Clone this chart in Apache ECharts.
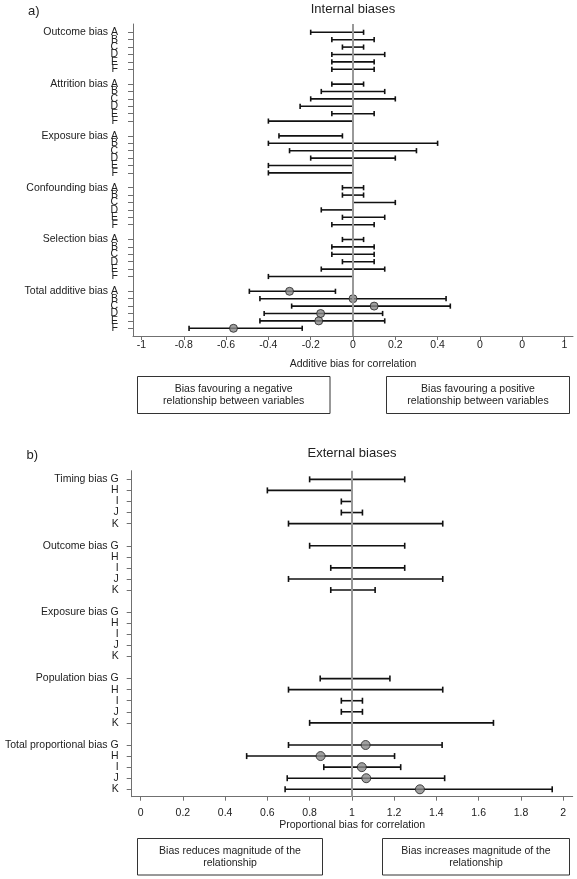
<!DOCTYPE html>
<html><head><meta charset="utf-8">
<script src="https://cdn.jsdelivr.net/npm/echarts@6/dist/echarts.min.js"></script>
<style>html,body{margin:0;padding:0;background:#fff}#c{width:577px;height:879px}</style>
</head><body><div id="c"></div>
<script>
// ---------- Data: internal biases (additive) ----------
const internalGroups = ['Outcome bias','Attrition bias','Exposure bias','Confounding bias','Selection bias','Total additive bias'];
const internalLetters = ['A','B','C','D','E','F'];
const intOutcome     = [[-0.2,0.05],[-0.1,0.1],[-0.05,0.05],[-0.1,0.15],[-0.1,0.1],[-0.1,0.1]];
const intAttrition   = [[-0.1,0.05],[-0.15,0.15],[-0.2,0.2],[-0.25,0],[-0.1,0.1],[-0.4,0]];
const intExposure    = [[-0.35,-0.05],[-0.4,0.4],[-0.3,0.3],[-0.2,0.2],[-0.4,0],[-0.4,0]];
const intConfounding = [[-0.05,0.05],[-0.05,0.05],[0,0.2],[-0.15,0],[-0.05,0.15],[-0.1,0.1]];
const intSelection   = [[-0.05,0.05],[-0.1,0.1],[-0.1,0.1],[-0.05,0.1],[-0.15,0.15],[-0.4,0]];
const intTotal       = [[-0.49,-0.083],[-0.44,0.44],[-0.29,0.46],[-0.42,0.14],[-0.44,0.15],[-0.775,-0.24]];
const intTotalPoint  = [-0.30, 0, 0.10, -0.153, -0.162, -0.565];
const intTickValues  = [-1,-0.8,-0.6,-0.4,-0.2,0,0.2,0.4,0.6,0.8,1];
const intTickLabels  = ['-1','-0.8','-0.6','-0.4','-0.2','0','0.2','0.4','0','0','1'];

// ---------- Data: external biases (proportional) ----------
const externalGroups = ['Timing bias','Outcome bias','Exposure bias','Population bias','Total proportional bias'];
const externalLetters = ['G','H','I','J','K'];
const extTiming     = [[0.8,1.25],[0.6,1.0],[0.95,1.0],[0.95,1.05],[0.7,1.43]];
const extOutcome    = [[0.8,1.25],[1.0,1.0],[0.9,1.25],[0.7,1.43],[0.9,1.11]];
const extExposure   = [];
const extPopulation = [[0.85,1.18],[0.7,1.43],[0.95,1.05],[0.95,1.05],[0.8,1.67]];
const extTotal      = [[0.70,1.427],[0.502,1.202],[0.867,1.231],[0.694,1.439],[0.684,1.948]];
const extTotalPoint = [1.065, 0.852, 1.047, 1.068, 1.322];
const extTickValues = [0,0.2,0.4,0.6,0.8,1,1.2,1.4,1.6,1.8,2];
const extTickLabels = ['0','0.2','0.4','0.6','0.8','1','1.2','1.4','1.6','1.8','2'];

// ---------- Build ----------
const FONT = "'Liberation Sans', Arial, sans-serif";
function build(groups, letters, sets, totalPts) {
  const rows = [], evenRows = [], oddRows = [], labels = {}, bars = [], pts = [];
  const step = letters.length + 1;
  groups.forEach((g, gi) => {
    letters.forEach((l, li) => {
      const r = gi * step + li;
      rows.push(r);
      (li % 2 === 0 ? evenRows : oddRows).push(r);
      labels[r] = li === 0 ? g + ' ' + l : l;
      const s = sets[gi][li];
      if (s) bars.push([s[0], s[1], r]);
      if (gi === groups.length - 1 && totalPts[li] != null) pts.push([totalPts[li], r]);
    });
  });
  return {rows, evenRows, oddRows, labels, bars, pts};
}
const topD = build(internalGroups, internalLetters,
  [intOutcome, intAttrition, intExposure, intConfounding, intSelection, intTotal], intTotalPoint);
const botD = build(externalGroups, externalLetters,
  [extTiming, extOutcome, extExposure, extPopulation, extTotal], extTotalPoint);

function renderBar(capH) {
  return function (params, api) {
    const y = api.value(2);
    const p1 = api.coord([api.value(0), y]);
    const p2 = api.coord([api.value(1), y]);
    const st = {stroke: '#111', lineWidth: 1.6};
    return {type: 'group', children: [
      {type: 'line', shape: {x1: p1[0], y1: p1[1], x2: p2[0], y2: p2[1]}, style: st},
      {type: 'line', shape: {x1: p1[0], y1: p1[1] - capH, x2: p1[0], y2: p1[1] + capH}, style: st},
      {type: 'line', shape: {x1: p2[0], y1: p2[1] - capH, x2: p2[0], y2: p2[1] + capH}, style: st}
    ]};
  };
}

const axisCol = '#707070', textCol = '#222';
function xAxisCfg(gi, min, max, vals, labs, name, labelMargin) {
  return {
    type: 'value', gridIndex: gi, min, max, position: 'bottom',
    name, nameLocation: 'middle', nameGap: 23,
    nameTextStyle: {fontFamily: FONT, fontSize: 10.5, color: textCol},
    axisLine: {show: true, onZero: false, lineStyle: {color: axisCol, width: 1}},
    axisTick: {show: true, length: 4, customValues: vals, lineStyle: {color: axisCol}},
    axisLabel: {customValues: vals, margin: labelMargin, hideOverlap: false, showMinLabel: true, showMaxLabel: true,
      fontFamily: FONT, fontSize: 10.5, color: textCol,
      formatter: v => { const i = vals.findIndex(t => Math.abs(t - v) < 1e-6); return i >= 0 ? labs[i] : ''; }},
    splitLine: {show: false}
  };
}
// y axis: tickRows get ticks, labelRows get labels
function yAxisCfg(gi, min, max, d, tickRows, labelRows, margin, showLine) {
  return {
    type: 'value', gridIndex: gi, inverse: true, min, max, position: 'left', offset: 0,
    axisLine: {show: showLine, onZero: false, lineStyle: {color: axisCol, width: 1}},
    axisTick: {show: showLine, length: 5, customValues: tickRows, lineStyle: {color: axisCol}},
    axisLabel: {customValues: labelRows, margin, hideOverlap: false, showMinLabel: true, showMaxLabel: true,
      fontFamily: FONT, fontSize: 10.5, color: textCol,
      formatter: v => d.labels[Math.round(v)] || ''},
    splitLine: {show: false}
  };
}

const chart = echarts.init(document.getElementById('c'), null, {renderer: 'canvas'});
const refLine = (val) => ({
  silent: true, symbol: 'none', animation: false,
  label: {show: false},
  lineStyle: {color: '#999', width: 2, type: 'solid'},
  data: [{xAxis: val}]
});

chart.setOption({
  animation: false,
  backgroundColor: '#fff',
  grid: [
    {left: 133, right: 4, top: 24, height: 312},
    {left: 131.7, right: 4.3, top: 470.7, height: 326}
  ],
  xAxis: [
    xAxisCfg(0, -1.04, 1.04, intTickValues, intTickLabels, 'Additive bias for correlation', 4),
    xAxisCfg(1, -0.042, 2.045, extTickValues, extTickLabels, 'Proportional bias for correlation', 11)
  ],
  yAxis: [
    yAxisCfg(0, -1.12, 41.04, topD, topD.rows, topD.evenRows, 15, true),
    yAxisCfg(0, -1.12, 41.04, topD, [], topD.oddRows, 15, false),
    yAxisCfg(1, -0.78, 28.67, botD, botD.rows, botD.rows, 13, true)
  ],
  series: [
    {type: 'custom', xAxisIndex: 0, yAxisIndex: 0, data: [], renderItem: () => null, markLine: refLine(0), z: 1},
    {type: 'custom', xAxisIndex: 1, yAxisIndex: 2, data: [], renderItem: () => null, markLine: refLine(1), z: 1},
    {type: 'custom', xAxisIndex: 0, yAxisIndex: 0, data: topD.bars, encode: {x: [0, 1], y: 2}, renderItem: renderBar(2.6), z: 3},
    {type: 'custom', xAxisIndex: 1, yAxisIndex: 2, data: botD.bars, encode: {x: [0, 1], y: 2}, renderItem: renderBar(3), z: 3},
    {type: 'scatter', xAxisIndex: 0, yAxisIndex: 0, data: topD.pts, symbol: 'circle', symbolSize: 8,
      itemStyle: {color: '#888', borderColor: '#222', borderWidth: 1}, z: 4},
    {type: 'scatter', xAxisIndex: 1, yAxisIndex: 2, data: botD.pts, symbol: 'circle', symbolSize: 9,
      itemStyle: {color: '#888', borderColor: '#222', borderWidth: 1}, z: 4}
  ],
  graphic: [
    {type: 'text', left: 28, top: 5, style: {text: 'a)', font: '13px ' + FONT, fill: textCol}},
    {type: 'text', x: 353, y: 9, style: {text: 'Internal biases', font: '13px ' + FONT, fill: textCol, align: 'center', verticalAlign: 'middle'}},
    {type: 'text', left: 26.5, top: 449, style: {text: 'b)', font: '13px ' + FONT, fill: textCol}},
    {type: 'text', x: 352, y: 453, style: {text: 'External biases', font: '13px ' + FONT, fill: textCol, align: 'center', verticalAlign: 'middle'}},
    {type: 'rect', shape: {x: 137.5, y: 376.5, width: 192.5, height: 37}, style: {fill: '#fff', stroke: '#333', lineWidth: 1}},
    {type: 'text', x: 233.7, y: 395, style: {text: 'Bias favouring a negative\nrelationship between variables', font: '10.5px ' + FONT, fill: textCol, align: 'center', verticalAlign: 'middle', lineHeight: 12.7}},
    {type: 'rect', shape: {x: 386.5, y: 376.5, width: 183, height: 37}, style: {fill: '#fff', stroke: '#333', lineWidth: 1}},
    {type: 'text', x: 478, y: 395, style: {text: 'Bias favouring a positive\nrelationship between variables', font: '10.5px ' + FONT, fill: textCol, align: 'center', verticalAlign: 'middle', lineHeight: 12.7}},
    {type: 'rect', shape: {x: 137.5, y: 838.5, width: 185, height: 36.5}, style: {fill: '#fff', stroke: '#333', lineWidth: 1}},
    {type: 'text', x: 230, y: 856.7, style: {text: 'Bias reduces magnitude of the\nrelationship', font: '10.5px ' + FONT, fill: textCol, align: 'center', verticalAlign: 'middle', lineHeight: 12}},
    {type: 'rect', shape: {x: 382.5, y: 838.5, width: 187, height: 36.5}, style: {fill: '#fff', stroke: '#333', lineWidth: 1}},
    {type: 'text', x: 476, y: 856.7, style: {text: 'Bias increases magnitude of the\nrelationship', font: '10.5px ' + FONT, fill: textCol, align: 'center', verticalAlign: 'middle', lineHeight: 12}}
  ]
});
</script>
</body></html>
